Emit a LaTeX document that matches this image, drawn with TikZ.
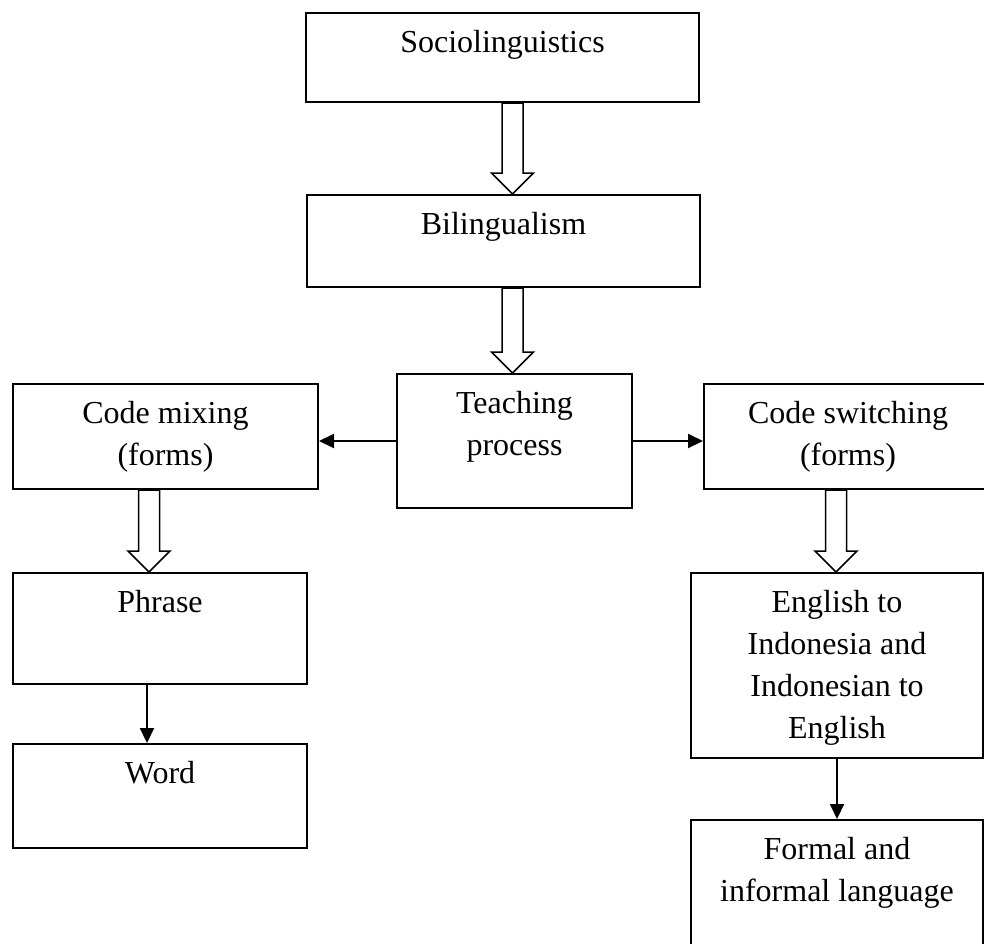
\documentclass[tikz,border=0pt]{standalone}
\usepackage{fontspec}
\setmainfont{Liberation Serif}
\usetikzlibrary{arrows.meta,calc}
\tikzstyle{box} = [draw,line width=2pt,anchor=north west,inner sep=0pt]
\tikzstyle{hollow} = [draw,line width=1.5pt,fill=white]
\tikzstyle{link} = [line width=2pt,->]
\tikzset{>={Triangle[length=15pt,width=14pt]},
  boxtext/.style={label={[anchor=north,yshift=-18pt,inner sep=0pt,align=center]north:#1}}}
% open block arrow between two boxes, at a given x
\newcommand{\hollowarrow}[3]{%
  \draw[hollow] let \p1=(#1.south), \p2=(#2.north) in
    (#3-10.5,\y1) -- (#3+10.5,\y1) -- (#3+10.5,\y2+21) -- (#3+21,\y2+21)
    -- (#3,\y2) -- (#3-21,\y2+21) -- (#3-10.5,\y2+21) -- cycle;}

\begin{document}
\begin{tikzpicture}[x=1pt,y=-1pt,font=\fontsize{32}{42}\selectfont]
    \useasboundingbox (0,0) rectangle (984,943);
    \node [box,minimum width=393pt,minimum height=89pt,boxtext={Sociolinguistics}] (soc) at (305,12) {};
    \node [box,minimum width=393pt,minimum height=92pt,boxtext={Bilingualism}] (bil) at (306,194) {};
    \node [box,minimum width=235pt,minimum height=134pt,boxtext={Teaching\\process}] (teach) at (396,373) {};
    \node [box,minimum width=305pt,minimum height=105pt,boxtext={Code mixing\\(forms)}] (mix) at (12,383) {};
    \node [box,minimum width=288pt,minimum height=105pt,boxtext={Code switching\\(forms)}] (sw) at (703,383) {};
    \node [box,minimum width=294pt,minimum height=111pt,boxtext={Phrase}] (phr) at (12,572) {};
    \node [box,minimum width=294pt,minimum height=104pt,boxtext={Word}] (word) at (12,743) {};
    \node [box,minimum width=292pt,minimum height=185pt,boxtext={English to\\Indonesia and\\Indonesian to\\English}] (eng) at (690,572) {};
    \node [box,minimum width=292pt,minimum height=150pt,boxtext={Formal and\\informal language}] (form) at (690,819) {};

    \hollowarrow{soc}{bil}{512.5}
    \hollowarrow{bil}{teach}{512.5}
    \hollowarrow{mix}{phr}{149}
    \hollowarrow{sw}{eng}{836}

    \draw [link] (teach.west) -- (mix.east |- teach.west);
    \draw [link] (teach.east) -- (sw.west |- teach.east);
    \draw [link] ($(phr.south)+(-13,0)$) -- ($(word.north)+(-13,0)$);
    \draw [link] (eng.south) -- (form.north);
  \end{tikzpicture}
\end{document}
